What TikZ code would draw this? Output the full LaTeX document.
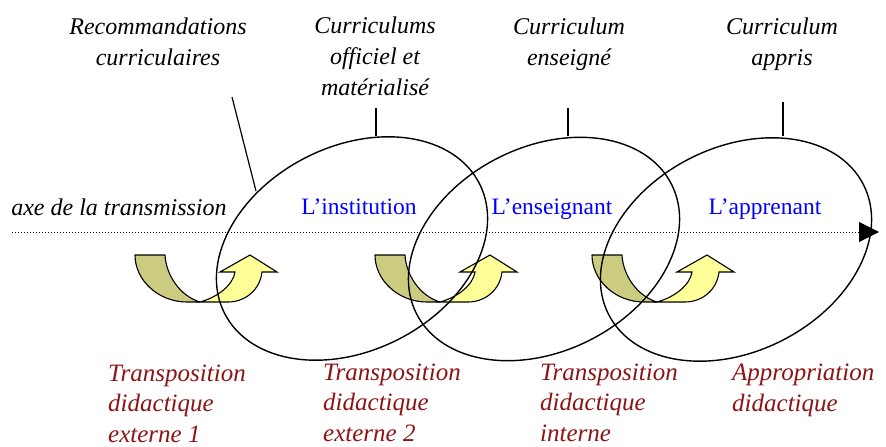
\documentclass[tikz,border=0pt]{standalone}
\usepackage{fontspec}
\setmainfont{Liberation Serif}
\usetikzlibrary{shapes.geometric,arrows.meta}
\definecolor{darkred}{RGB}{140,20,20}
\definecolor{arrowdark}{RGB}{204,204,128}
\definecolor{arrowlight}{RGB}{255,255,153}
\begin{document}
\begin{tikzpicture}[x=1pt,y=-1pt,
  lab/.style={font=\fontsize{24}{31}\selectfont\itshape, align=center, anchor=base, inner sep=0},
  redlab/.style={font=\fontsize{25}{30.5}\selectfont\itshape, align=left, anchor=base west, inner sep=0, text=darkred},
  who/.style={font=\fontsize{23.5}{28}\selectfont, text=blue, anchor=base, inner sep=0},
  loop/.style={draw, ellipse, line width=1.4pt, minimum width=286pt, minimum height=204pt, rotate=27, inner sep=0, outer sep=0},
  tickline/.style={line width=1.3pt},
  darkpart/.style={fill=arrowdark, draw=black, line width=1.1pt, line join=round},
  lightpart/.style={fill=arrowlight, draw=black, line width=1.1pt, line join=miter}]
\useasboundingbox (0,0) rectangle (886,447);

% curved block arrows
\foreach \dx in {0,240,457}{
  \begin{scope}[xshift=\dx pt]
    \path[darkpart] (135,255) -- (165,255) .. controls (166,275) and (180,296) .. (200,302)
       -- (187,302) .. controls (158,302) and (135,280) .. cycle;
    \path[lightpart] (200,302) .. controls (218,297) and (233,285) .. (235,272)
       -- (220,272) -- (250,255) -- (277,272) -- (262,272)
       .. controls (260,290) and (245,302) .. (228,302) -- cycle;
  \end{scope}
}

% axis
\coordinate (axstart) at (12,232);
\coordinate (axend) at (879,232);
\draw[line width=1pt, dash pattern=on 1pt off 2pt, -{Triangle[length=20pt,width=20pt]}] (axstart) -- (axend);

% ellipses
\node[loop] (e1) at (352,248.5) {};
\node[loop] (e2) at (544,249) {};
\node[loop] (e3) at (736,249.5) {};

% labels (anchor = baseline of last line)
\node[lab] (rec) at (158,65) {Recommandations\\curriculaires};
\node[lab] (off) at (375,95) {Curriculums\\officiel et\\matérialisé};
\node[lab] (ens) at (569,65) {Curriculum\\enseigné};
\node[lab] (app) at (782,65) {Curriculum\\appris};
\node[lab] (axe) at (119,215) {axe de la transmission};

\node[who] (inst) at (359,214) {L’institution};
\node[who] (ensg) at (552,214) {L’enseignant};
\node[who] (appr) at (765,214) {L’apprenant};

\node[redlab] (t1) at (108,442) {Transposition\\didactique\\externe 1};
\node[redlab] (t2) at (323,441) {Transposition\\didactique\\externe 2};
\node[redlab] (t3) at (540,441) {Transposition\\didactique\\interne};
\node[redlab] (t4) at (732,411) {Appropriation\\didactique};

% pointer lines
\coordinate (r1) at (232,97);
\coordinate (r2) at (256,191);
\draw[line width=1.2pt] (r1) -- (r2);
\coordinate (k1a) at (376,108);
\coordinate (k1b) at (376,136);
\coordinate (k2a) at (568,108);
\coordinate (k2b) at (568,136);
\coordinate (k3a) at (783,102);
\coordinate (k3b) at (783,136);
\draw[tickline] (k1a) -- (k1b);
\draw[tickline] (k2a) -- (k2b);
\draw[tickline] (k3a) -- (k3b);
\end{tikzpicture}
\end{document}
